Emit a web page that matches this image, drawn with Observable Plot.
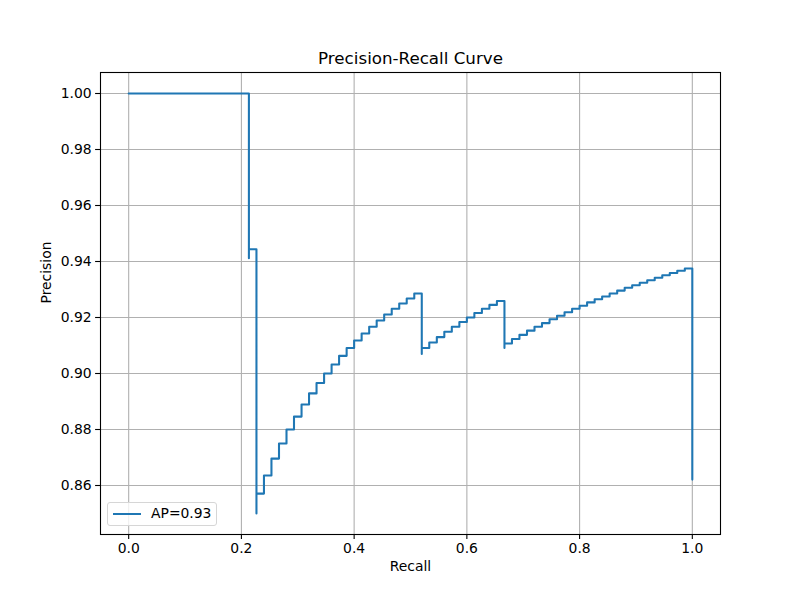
<!DOCTYPE html>
<html>
<head>
<meta charset="utf-8">
<script src="https://cdn.jsdelivr.net/npm/d3@7"></script>
<script src="https://cdn.jsdelivr.net/npm/@observablehq/plot@0.6"></script>
<style>
  html, body { margin: 0; padding: 0; background: #fff; }
  #wrap { position: relative; width: 800px; height: 600px; font-family: "DejaVu Sans", sans-serif; }
  #legend {
    position: absolute; left: 107px; top: 502px; width: 110px; height: 24px;
    border: 1px solid #d6d6d6; border-radius: 3px; background: rgba(255,255,255,0.8);
    box-sizing: border-box;
  }
  #legend .ln { position: absolute; left: 5px; top: 10px; width: 28px; height: 2px; background: #1f77b4; }
  #legend .tx { position: absolute; left: 43px; top: 2px; font-size: 13.9px; line-height: 17px; color: #000; }
</style>
</head>
<body>
<div id="wrap"><div id="legend"><div class="ln"></div><div class="tx"></div></div></div>
<script>
// Points in order of decreasing recall (steps-post)
const recall = [
  1.0, 1.0, 0.9867, 0.9733, 0.96, 0.9467, 0.9333, 0.92, 0.9067, 0.8933, 0.88,
  0.8667, 0.8533, 0.84, 0.8267, 0.8133, 0.8, 0.7867, 0.7733, 0.76, 0.7467,
  0.7333, 0.72, 0.7067, 0.6933, 0.68, 0.6667, 0.6667, 0.6533, 0.64, 0.6267,
  0.6133, 0.6, 0.5867, 0.5733, 0.56, 0.5467, 0.5333, 0.52, 0.52, 0.5067,
  0.4933, 0.48, 0.4667, 0.4533, 0.44, 0.4267, 0.4133, 0.4, 0.3867, 0.3733,
  0.36, 0.3467, 0.3333, 0.32, 0.3067, 0.2933, 0.28, 0.2667, 0.2533, 0.24,
  0.2267, 0.2267, 0.2133, 0.2133, 0.0
];
const precision = [
  0.8621, 0.9375, 0.9367, 0.9359, 0.9351, 0.9342, 0.9333, 0.9324, 0.9315, 0.9306, 0.9296,
  0.9286, 0.9275, 0.9265, 0.9254, 0.9242, 0.9231, 0.9219, 0.9206, 0.9194, 0.9180,
  0.9167, 0.9153, 0.9138, 0.9123, 0.9107, 0.9091, 0.9259, 0.9245, 0.9231, 0.9216,
  0.9200, 0.9184, 0.9167, 0.9149, 0.9130, 0.9111, 0.9091, 0.9070, 0.9286, 0.9268,
  0.9250, 0.9231, 0.9211, 0.9189, 0.9167, 0.9143, 0.9118, 0.9091, 0.9063, 0.9032,
  0.9000, 0.8966, 0.8929, 0.8889, 0.8846, 0.8800, 0.8750, 0.8696, 0.8636, 0.8571,
  0.8500, 0.9444, 0.9412, 1.0, 1.0
];
const xTicks = [0.0, 0.2, 0.4, 0.6, 0.8, 1.0];
const yTicks = [0.86, 0.88, 0.90, 0.92, 0.94, 0.96, 0.98, 1.00];
const titleText = "Precision-Recall Curve";
const xLabel = "Recall";
const yLabel = "Precision";
const legendLabel = "AP=0.93";

const data = recall.map((r, i) => ({recall: r, precision: precision[i]}));
const font = "DejaVu Sans, sans-serif";

const chart = Plot.plot({
  width: 800,
  height: 600,
  marginLeft: 100,
  marginRight: 80,
  marginTop: 72,
  marginBottom: 66,
  style: {fontFamily: font, fontSize: "13.9px", color: "#000", background: "transparent"},
  x: {domain: [-0.05, 1.05], ticks: xTicks, tickFormat: d3.format(".1f")},
  y: {domain: [0.8425, 1.0075], ticks: yTicks, tickFormat: d3.format(".2f")},
  marks: [
    Plot.gridX(xTicks, {stroke: "#b0b0b0", strokeOpacity: 1, strokeWidth: 1.1}),
    Plot.gridY(yTicks, {stroke: "#b0b0b0", strokeOpacity: 1, strokeWidth: 1.1}),
    Plot.line(data, {x: "recall", y: "precision", curve: "step-after", stroke: "#1f77b4", strokeWidth: 2.08}),
    Plot.frame({stroke: "#000", strokeWidth: 1.1}),
    Plot.axisX(xTicks, {tickSize: 4.9, tickPadding: 4, strokeWidth: 1.1, label: null, fontSize: 13.9, tickFormat: d3.format(".1f")}),
    Plot.axisY(yTicks, {tickSize: 4.9, tickPadding: 4, strokeWidth: 1.1, label: null, fontSize: 13.9, tickFormat: d3.format(".2f")}),
    Plot.text([titleText], {frameAnchor: "top", text: d => d, dy: -20, fontSize: 16.7}),
    Plot.text([xLabel], {frameAnchor: "bottom", text: d => d, dy: 36, fontSize: 13.9}),
    Plot.text([yLabel], {frameAnchor: "left", text: d => d, dx: -54, rotate: -90, fontSize: 13.9})
  ]
});
const wrap = document.getElementById("wrap");
wrap.insertBefore(chart, wrap.firstChild);
document.querySelector("#legend .tx").textContent = legendLabel;
</script>
</body>
</html>
